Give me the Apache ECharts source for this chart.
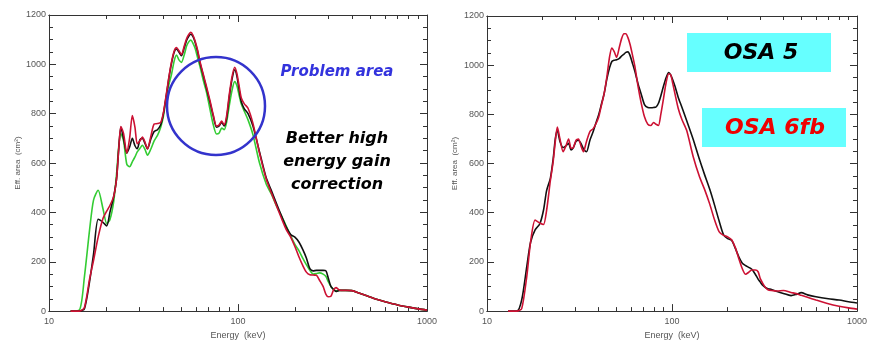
<!DOCTYPE html>
<html>
<head>
<meta charset="utf-8">
<script src="https://cdn.jsdelivr.net/npm/echarts@6/dist/echarts.min.js"></script>
<style>
  html, body { margin: 0; padding: 0; background: #fff; }
  #chart { width: 870px; height: 345px; }
</style>
</head>
<body>
<div id="chart"></div>
<script>
// energy grid (keV)
const leftEnergy = [13, 14.5, 15.4, 16.4, 17.2, 18.2, 19.3, 20.2, 21.0, 22.0,
  22.8, 23.4, 24.0, 24.8, 25.8, 26.7, 27.6, 28.5, 29.3, 30.3,
  31.2, 32.2, 33.2, 34.5, 36.0, 37.5, 39.0, 40.2, 41.5, 43.0,
  44.5, 46.0, 47.3, 48.7, 50.2, 52.0, 53.5, 55.0, 56.3, 57.8,
  59.3, 61, 63, 65.5, 68, 71, 74, 77, 79.5, 82,
  84.5, 87, 90, 93, 96, 98.5, 101, 104, 108, 113,
  120, 130, 141, 150, 160, 170, 180, 190, 200, 210,
  220, 230, 240, 250, 260, 270, 282, 292, 300, 310,
  320, 330, 345, 370, 400, 440, 480, 540, 600, 700,
  800, 900, 1000];

const leftRed = [0, 0, 15, 130, 205, 300, 375, 405, 428, 465,
  540, 660, 748, 720, 640, 700, 792, 745, 678, 690,
  705, 685, 657, 705, 758, 760, 765, 800, 865, 945,
  1010, 1055, 1068, 1055, 1040, 1075, 1105, 1122, 1130, 1118,
  1095, 1060, 1010, 960, 912, 855, 795, 750, 755, 770,
  755, 790, 880, 950, 988, 965, 920, 865, 840, 822,
  760, 640, 535, 480, 426, 375, 330, 300, 262, 220,
  185, 158, 147, 146, 145, 125, 100, 68, 58, 60,
  85, 95, 85, 84, 83, 72, 62, 48, 38, 25,
  16, 9, 4];

const leftBlack = [0, 0, 10, 120, 230, 372, 360, 345, 400, 465,
  540, 660, 745, 700, 640, 665, 700, 670, 658, 695,
  700, 680, 658, 695, 728, 735, 755, 795, 860, 940,
  1005, 1050, 1062, 1050, 1035, 1068, 1098, 1115, 1122, 1112,
  1090, 1055, 1005, 955, 905, 848, 790, 745, 750, 765,
  750, 780, 870, 940, 978, 955, 905, 850, 820, 800,
  750, 645, 540, 490, 435, 385, 340, 310, 300, 280,
  250, 215, 172, 163, 165, 165, 165, 163, 135, 100,
  88, 80, 84, 84, 83, 72, 62, 48, 38, 25,
  16, 9, 4];

const leftGreen = [0, 5, 140, 330, 450, 490, 415, 355, 370, 445,
  560, 670, 720, 690, 595, 585, 605, 625, 645, 660,
  672, 655, 632, 655, 690, 712, 745, 785, 855, 915,
  960, 1015, 1038, 1018, 1008, 1040, 1075, 1092, 1098, 1085,
  1065, 1030, 990, 935, 890, 820, 755, 718, 722, 742,
  735, 765, 835, 895, 930, 915, 880, 840, 810, 775,
  715, 600, 515, 475, 425, 385, 345, 305, 270, 245,
  215, 188, 165, 150, 152, 155, 150, 140, 120, 100,
  88, 82, 84, 84, 83, 72, 62, 48, 38, 25,
  16, 9, 4];

const rightEnergy = [13, 14.5, 15.4, 16.4, 17.2, 18.2, 19.3, 20.2, 21.0, 22.0,
  22.8, 23.4, 24.0, 24.8, 25.8, 26.7, 27.6, 28.5, 29.3, 30.3,
  31.2, 32.2, 33.2, 34.5, 36.0, 37.5, 39.0, 40.2, 41.5, 43.0,
  44.5, 46.0, 47.3, 48.7, 50.2, 52.0, 53.5, 55.0, 56.3, 57.8,
  59.3, 61, 63, 65.5, 68, 71, 74, 77, 79.5, 82,
  84.5, 87, 90, 93, 96, 98.5, 101, 104, 108, 113,
  120, 130, 141, 150, 160, 170, 180, 190, 200, 210,
  220, 230, 240, 250, 260, 270, 282, 292, 300, 310,
  320, 330, 345, 370, 400, 440, 470, 500, 540, 600,
  700, 800, 900, 1000];

const rightBlack = [0, 0, 45, 180, 280, 330, 355, 410, 490, 540,
  620, 700, 735, 690, 665, 672, 682, 655, 665, 690,
  695, 682, 660, 648, 695, 730, 770, 800, 840, 885,
  945, 990, 1015, 1020, 1022, 1028, 1038, 1045, 1052, 1054,
  1040, 1010, 975, 925, 885, 840, 828, 827, 828, 830,
  845, 875, 915, 950, 970, 960, 940, 912, 870, 830,
  775, 700, 615, 555, 495, 430, 365, 310, 295, 288,
  255, 220, 195, 185, 178, 170, 150, 130, 118, 104,
  96, 91, 88, 80, 72, 63, 68, 75, 66, 58,
  50, 45, 38, 33];

const rightRed = [0, 0, 10, 140, 280, 370, 358, 352, 410, 530,
  610, 690, 748, 700, 648, 672, 700, 662, 665, 695,
  700, 672, 648, 690, 730, 742, 765, 790, 835, 885,
  955, 1035, 1070, 1055, 1032, 1075, 1110, 1128, 1128, 1112,
  1085, 1045, 995, 915, 850, 790, 760, 755, 767, 760,
  755, 800, 865, 930, 965, 960, 925, 880, 825, 780,
  735, 630, 545, 495, 435, 370, 322, 308, 302, 290,
  258, 212, 172, 150, 158, 167, 167, 160, 132, 112,
  96, 87, 84, 82, 84, 76, 71, 64, 56, 45,
  30, 20, 13, 8];

const majorTicks = [10, 100, 1000];
const minorTicks = [20, 30, 40, 50, 60, 70, 80, 90, 200, 300, 400, 500, 600, 700, 800, 900];

const zip = (xs, ys) => xs.map((x, i) => [x, ys[i]]);

const axisColor = "#333";
const labelFont = { color: "#555", fontSize: 9, fontFamily: "Liberation Sans" };
const plain = (v) => String(Math.round(v));

function xAxes(gridIndex) {
  const base = {
    type: "log", logBase: 10, min: 10, max: 1000, gridIndex: gridIndex,
    splitLine: { show: false },
    axisLine: { onZero: false, lineStyle: { color: axisColor, width: 1 } },
  };
  return [
    Object.assign({}, base, {
      position: "bottom",
      name: "Energy  (keV)",
      nameLocation: "middle",
      nameGap: 19,
      nameTextStyle: { color: "#555", fontSize: 9, fontFamily: "Liberation Sans" },
      axisTick: { inside: true, length: 7, customValues: majorTicks, lineStyle: { color: axisColor } },
      axisLabel: Object.assign({ margin: 6, customValues: majorTicks, formatter: plain }, labelFont),
    }),
    Object.assign({}, base, {
      position: "bottom",
      axisTick: { inside: true, length: 4, customValues: minorTicks, lineStyle: { color: axisColor } },
      axisLabel: { show: false },
    }),
    Object.assign({}, base, {
      position: "top",
      axisTick: { inside: true, length: 7, customValues: majorTicks, lineStyle: { color: axisColor } },
      axisLabel: { show: false },
    }),
    Object.assign({}, base, {
      position: "top",
      axisTick: { inside: true, length: 4, customValues: minorTicks, lineStyle: { color: axisColor } },
      axisLabel: { show: false },
    }),
  ];
}

function yAxes(gridIndex, nameGap) {
  const base = {
    type: "value", min: 0, max: 1200, interval: 200, gridIndex: gridIndex,
    splitLine: { show: false },
    axisLine: { show: true, onZero: false, lineStyle: { color: axisColor, width: 1 } },
    axisTick: { show: true, inside: true, length: 7, lineStyle: { color: axisColor } },
    minorTick: { show: true, splitNumber: 4, length: 4, lineStyle: { color: axisColor } },
  };
  return [
    Object.assign({}, base, {
      position: "left",
      name: "Eff. area  (cm²)",
      nameLocation: "middle",
      nameRotate: 90,
      nameGap: nameGap,
      nameTextStyle: { color: "#555", fontSize: 8, fontFamily: "Liberation Sans" },
      axisLabel: Object.assign({ margin: 3, formatter: plain }, labelFont),
    }),
    Object.assign({}, base, { position: "right", axisLabel: { show: false } }),
  ];
}

function line(name, data, color, xi, yi, z) {
  return {
    name: name, type: "line", data: data, xAxisIndex: xi, yAxisIndex: yi,
    showSymbol: false, smooth: 0.25, z: z,
    lineStyle: { color: color, width: 1.6 },
  };
}

const chart = echarts.init(document.getElementById("chart"), null, { renderer: "canvas" });

const font = (s) => "italic bold " + s + "px 'DejaVu Sans'";

chart.setOption({
  animation: false,
  backgroundColor: "#fff",
  grid: [
    { left: 49, right: 443, top: 15, bottom: 27 },
    { left: 487, right: 7, top: 16, bottom: 26 },
  ],
  xAxis: xAxes(0).concat(xAxes(1)),
  yAxis: yAxes(0, 27).concat(yAxes(1, 28)),
  series: [
    line("left green", zip(leftEnergy, leftGreen), "#33cc33", 0, 0, 2),
    line("left black", zip(leftEnergy, leftBlack), "#111111", 0, 0, 3),
    line("left red", zip(leftEnergy, leftRed), "#cc1133", 0, 0, 4),
    line("OSA 5", zip(rightEnergy, rightBlack), "#111111", 4, 2, 3),
    line("OSA 6fb", zip(rightEnergy, rightRed), "#cc1133", 4, 2, 4),
  ],
  graphic: [
    {
      type: "circle", z: 10,
      shape: { cx: 216, cy: 106, r: 49 },
      style: { fill: "none", stroke: "#3333cc", lineWidth: 2.5 },
    },
    {
      type: "text", z: 10, x: 337, y: 72,
      style: { text: "Problem area", font: font(15), fill: "#3333dd", align: "center", verticalAlign: "middle" },
    },
    {
      type: "text", z: 10, x: 337, y: 162,
      style: {
        text: "Better high\nenergy gain\ncorrection", font: font(16), lineHeight: 23,
        fill: "#000", align: "center", verticalAlign: "middle",
      },
    },
    { type: "rect", z: 5, shape: { x: 687, y: 33, width: 144, height: 39 }, style: { fill: "#66ffff" } },
    { type: "rect", z: 5, shape: { x: 702, y: 108, width: 144, height: 39 }, style: { fill: "#66ffff" } },
    {
      type: "text", z: 10, x: 761, y: 53,
      style: {
        text: "OSA 5", font: font(22), fill: "#000", align: "center", verticalAlign: "middle",
        shadowColor: "rgba(0,0,0,0.45)", shadowOffsetX: 2, shadowOffsetY: 2, shadowBlur: 1,
      },
    },
    {
      type: "text", z: 10, x: 775, y: 128,
      style: {
        text: "OSA 6fb", font: font(22), fill: "#ee0000", align: "center", verticalAlign: "middle",
        shadowColor: "rgba(0,0,0,0.45)", shadowOffsetX: 2, shadowOffsetY: 2, shadowBlur: 1,
      },
    },
  ],
});
</script>
</body>
</html>
